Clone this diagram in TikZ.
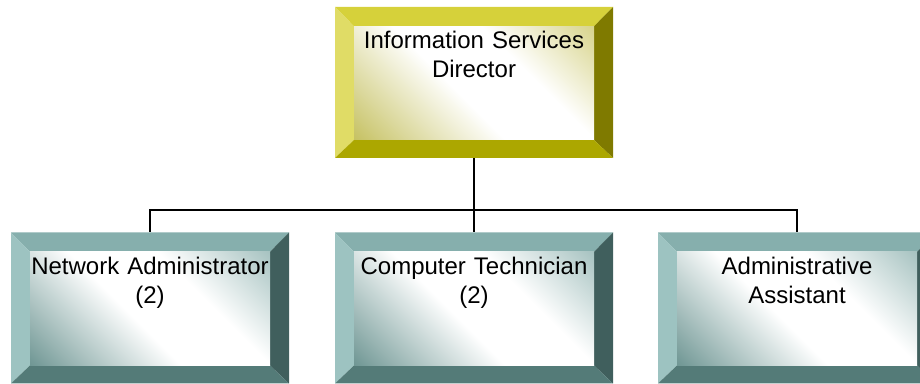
\documentclass[tikz,border=0pt]{standalone}
\usepackage{fontspec}
\setmainfont{Liberation Sans}

\definecolor{dirtop}{HTML}{D6D13A}
\definecolor{dirleft}{HTML}{E0DC66}
\definecolor{dirright}{HTML}{7F7A00}
\definecolor{dirbot}{HTML}{ACA700}
\definecolor{dirfacea}{HTML}{BFBA50}
\definecolor{dirfaceb}{HTML}{D3CF7E}
\definecolor{stafftop}{HTML}{86AFAD}
\definecolor{staffleft}{HTML}{9DC3C1}
\definecolor{staffright}{HTML}{405F5D}
\definecolor{staffbot}{HTML}{547B78}
\definecolor{stafffacea}{HTML}{5E8A87}
\definecolor{stafffaceb}{HTML}{9DBCBA}

\pgfdeclareverticalshading{dirface}{100bp}{color(0bp)=(dirfacea); color(11bp)=(dirfacea); color(45bp)=(white); color(63bp)=(white); color(88bp)=(dirfaceb); color(100bp)=(dirfaceb)}
\pgfdeclareverticalshading{staffface}{100bp}{color(0bp)=(stafffacea); color(11bp)=(stafffacea); color(45bp)=(white); color(63bp)=(white); color(88bp)=(stafffaceb); color(100bp)=(stafffaceb)}

\tikzset{every picture/.style={line width=0.75pt},
	bevelbox/.style n args={5}{minimum width=208.5pt, minimum height=113.25pt,
		inner sep=0pt, text width=200pt, align=center,
		text height=31.5pt, text depth=81.75pt,
		font=\fontsize{18}{21.5}\selectfont,
		path picture={
			\coordinate (pnw) at (path picture bounding box.north west);
			\coordinate (pne) at (path picture bounding box.north east);
			\coordinate (psw) at (path picture bounding box.south west);
			\coordinate (pse) at (path picture bounding box.south east);
			\coordinate (fnw) at ([xshift=14.25pt,yshift=-14.5pt]pnw);
			\coordinate (fne) at ([xshift=-14.25pt,yshift=-14.5pt]pne);
			\coordinate (fsw) at ([xshift=14.25pt,yshift=13.5pt]psw);
			\coordinate (fse) at ([xshift=-14.25pt,yshift=13.5pt]pse);
			\fill [#1] (pnw) -- (pne) -- (fne) -- (fnw) -- cycle;
			\fill [#2] (pnw) -- (fnw) -- (fsw) -- (psw) -- cycle;
			\fill [#3] (pne) -- (pse) -- (fse) -- (fne) -- cycle;
			\fill [#4] (psw) -- (fsw) -- (fse) -- (pse) -- cycle;
			\shade [shading=#5, shading angle=-45] (fnw) rectangle (fse);
		}},
	connector/.style={line width=1.5pt}
}

\begin{document}
\begin{tikzpicture}[x=0.75pt,y=0.75pt]
	\useasboundingbox (0,0) rectangle (920,384);
	%Director box
	\node (dir) [bevelbox={dirtop}{dirleft}{dirright}{dirbot}{dirface}] at (474,301.5) {Information Services\\Director};
	%Staff boxes
	\node (net) [bevelbox={stafftop}{staffleft}{staffright}{staffbot}{staffface}] at (150,76) {Network Administrator\\(2)};
	\node (tech) [bevelbox={stafftop}{staffleft}{staffright}{staffbot}{staffface}] at (474,76) {Computer Technician\\(2)};
	\node (asst) [bevelbox={stafftop}{staffleft}{staffright}{staffbot}{staffface}] at (797,76) {Administrative\\Assistant};
	%Connectors
	\coordinate (bus) at (474,174);
	\draw [connector] (dir.south) -- (tech.north);
	\draw [connector] (net.north) |- (bus) -| (asst.north);
\end{tikzpicture}
\end{document}
